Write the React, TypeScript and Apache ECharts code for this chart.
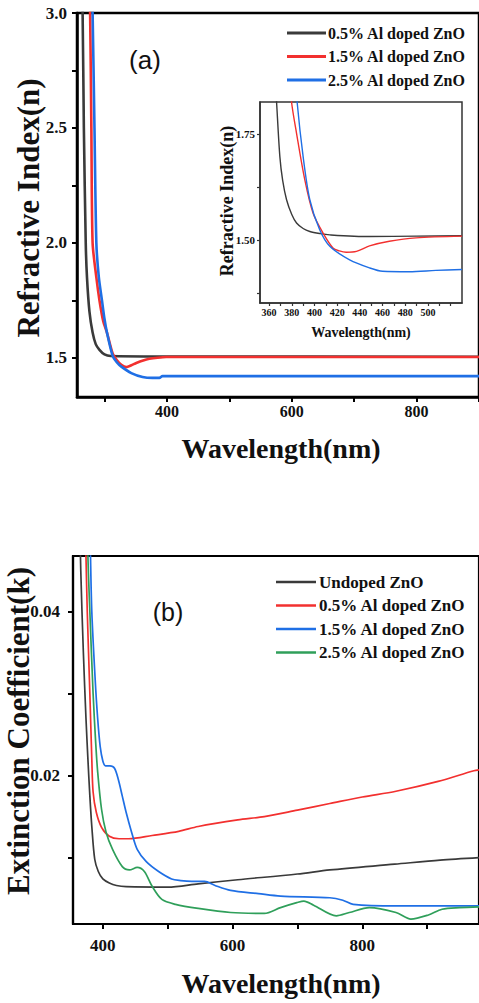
import React, { useEffect, useRef } from "react";
import * as echarts from "echarts";

const SERIF = "'Liberation Serif', 'Times New Roman', serif";
const SANS = "'Liberation Sans', Arial, sans-serif";

// ---------- (a) Refractive index, main plot ----------
const topNames = ["0.5% Al doped ZnO", "1.5% Al doped ZnO", "2.5% Al doped ZnO"];
const topColors = ["#3a3a3a", "#f2302f", "#1f6fe5"];
const nAl05: number[][] = [[263, 3.2], [265, 3.0], [267, 2.5], [270, 2.0], [272, 1.85], [276, 1.7], [281, 1.61], [286, 1.56], [292, 1.535], [300, 1.515], [310, 1.508], [400, 1.506], [900, 1.505]];
const nAl15: number[][] = [[275, 3.2], [277, 3.0], [279, 2.5], [281, 2.0], [287, 1.85], [292, 1.75], [298, 1.66], [304, 1.61], [313, 1.52], [320, 1.49], [327, 1.47], [335, 1.46], [343, 1.468], [351, 1.478], [362, 1.489], [372, 1.496], [385, 1.501], [399, 1.504], [900, 1.504]];
const nAl25: number[][] = [[279, 3.2], [281, 3.0], [284, 2.5], [287, 2.0], [291, 1.85], [296, 1.75], [300, 1.67], [304, 1.61], [313, 1.51], [320, 1.48], [327, 1.462], [343, 1.434], [361, 1.417], [377, 1.413], [388, 1.413], [393, 1.421], [900, 1.421]];
const topXTicks = [300, 400, 500, 600, 700, 800, 900];
const topXLabels = [400, 600, 800];
const topYTicks = [1.5, 1.75, 2.0, 2.25, 2.5, 2.75, 3.0];
const topYLabels = [1.5, 2.0, 2.5, 3.0];

// ---------- (a) inset ----------
const insAl05: number[][] = [[365, 1.9], [366.6, 1.826], [369.5, 1.697], [372, 1.64], [375.4, 1.595], [380, 1.56], [384.2, 1.54], [390, 1.527], [395.9, 1.52], [405, 1.515], [413.5, 1.512], [448.5, 1.508], [490, 1.509], [530, 1.51]];
const insAl15: number[][] = [[378, 1.9], [379.8, 1.826], [384.2, 1.752], [391.5, 1.642], [398.8, 1.563], [407.6, 1.516], [416.3, 1.481], [422, 1.474], [428, 1.471], [437, 1.473], [448.5, 1.486], [466, 1.497], [489.5, 1.505], [530, 1.509]];
const insAl25: number[][] = [[383, 1.9], [384.7, 1.826], [390, 1.697], [395.9, 1.595], [404.6, 1.524], [413.5, 1.485], [431, 1.453], [448.5, 1.434], [460, 1.426], [483.6, 1.425], [507, 1.428], [530, 1.43]];
const insXTicks = [360, 370, 380, 390, 400, 410, 420, 430, 440, 450, 460, 470, 480, 490, 500, 510, 520];
const insXLabels = [360, 380, 400, 420, 440, 460, 480, 500];
const insYTicks = [1.375, 1.5, 1.625, 1.75];
const insYLabels = [1.5, 1.75];

// ---------- (b) Extinction coefficient ----------
const botNames = ["Undoped ZnO", "0.5% Al doped ZnO", "1.5% Al doped ZnO", "2.5% Al doped ZnO"];
const botColors = ["#3a3a3a", "#f2302f", "#1f6fe5", "#2f9f5a"];
const kUndoped: number[][] = [[362, 0.06], [366, 0.045], [370, 0.035], [374, 0.027], [377, 0.022], [380, 0.0175], [383, 0.0138], [387.5, 0.0098], [393, 0.0083], [400, 0.0074], [410, 0.0069], [421, 0.0066], [436, 0.00646], [500, 0.0064], [547, 0.0068], [608, 0.0073], [700, 0.008], [750, 0.0085], [850, 0.0092], [920, 0.0097], [980, 0.01]];
const kAl05: number[][] = [[370, 0.06], [374, 0.0468], [376, 0.04], [380, 0.03], [383, 0.022], [385, 0.018], [390, 0.0155], [398, 0.0137], [410, 0.0126], [425, 0.0123], [440, 0.0123], [476, 0.0127], [517, 0.0132], [547, 0.0138], [608, 0.0146], [649, 0.015], [700, 0.0158], [750, 0.0166], [800, 0.0174], [852, 0.0181], [917, 0.0193], [972, 0.0206], [980, 0.0207]];
const kAl15: number[][] = [[378, 0.06], [381, 0.0468], [383, 0.04], [388, 0.032], [392, 0.027], [396, 0.0235], [400, 0.0218], [404, 0.0212], [411, 0.0212], [418, 0.0209], [424, 0.0195], [430, 0.0175], [436, 0.0155], [444, 0.0132], [453, 0.011], [467, 0.0095], [486, 0.0083], [506, 0.0074], [520, 0.0072], [537, 0.0071], [557, 0.0071], [573, 0.0066], [597, 0.006], [640, 0.0056], [674, 0.0053], [750, 0.0051], [770, 0.0048], [786, 0.0043], [852, 0.0041], [920, 0.0041], [980, 0.0041]];
const kAl25: number[][] = [[374, 0.06], [377, 0.0468], [380, 0.04], [385, 0.03], [389, 0.024], [392, 0.0205], [398, 0.0159], [405, 0.0131], [415, 0.011], [430, 0.0089], [441, 0.0085], [453, 0.0088], [464, 0.0083], [476, 0.0065], [491, 0.0049], [512, 0.0043], [547, 0.0038], [597, 0.0033], [649, 0.0032], [674, 0.0039], [699, 0.0045], [710, 0.0047], [725, 0.0042], [760, 0.0029], [780, 0.0033], [811, 0.0039], [852, 0.0033], [875, 0.0025], [902, 0.003], [923, 0.0037], [950, 0.0039], [980, 0.004]];
const botXTicks = [400, 500, 600, 700, 800, 900];
const botXLabels = [400, 600, 800];
const botYTicks = [0.01, 0.02, 0.03, 0.04];
const botYLabels = [0.02, 0.04];

const topSeriesData = [nAl05, nAl15, nAl25];
const insSeriesData = [insAl05, insAl15, insAl25];
const botSeriesData = [kUndoped, kAl05, kAl15, kAl25];

function buildOption() {
  const boldLabel = (size: number) => ({ fontFamily: SERIF, fontWeight: "bold" as const, fontSize: size, color: "#111" });

  const series: any[] = [];
  topSeriesData.forEach((d, i) =>
    series.push({ type: "line", name: topNames[i], xAxisIndex: 0, yAxisIndex: 0, data: d, symbol: "none", smooth: 0.25, lineStyle: { color: topColors[i], width: 2.6 }, z: 3 })
  );
  insSeriesData.forEach((d, i) =>
    series.push({ type: "line", name: topNames[i] + " inset", xAxisIndex: 1, yAxisIndex: 1, data: d, symbol: "none", smooth: 0.3, lineStyle: { color: topColors[i], width: 1.4 }, z: 5 })
  );
  botSeriesData.forEach((d, i) =>
    series.push({ type: "line", name: botNames[i] + " k", xAxisIndex: 2, yAxisIndex: 2, data: d, symbol: "none", smooth: 0.3, lineStyle: { color: botColors[i], width: 1.7 }, z: 3 })
  );

  const graphic: any[] = [];
  // legends
  topNames.forEach((n, i) => {
    const y = 33 + i * 23.5;
    graphic.push({ type: "line", shape: { x1: 287, y1: y, x2: 326, y2: y }, style: { stroke: topColors[i], lineWidth: 3 } });
    graphic.push({ type: "text", x: 328, y, style: { text: n, font: `bold 16px ${SERIF}`, fill: "#111", textVerticalAlign: "middle", textAlign: "left" } });
  });
  botNames.forEach((n, i) => {
    const y = 582 + i * 23.5;
    graphic.push({ type: "line", shape: { x1: 276, y1: y, x2: 316, y2: y }, style: { stroke: botColors[i], lineWidth: 2.5 } });
    graphic.push({ type: "text", x: 319, y, style: { text: n, font: `bold 17px ${SERIF}`, fill: "#111", textVerticalAlign: "middle", textAlign: "left" } });
  });
  const centered = (text: string, x: number, y: number, font: string, rot = 0) => ({
    type: "text", x, y, rotation: rot, z: 10,
    style: { text, font, fill: "#111", textAlign: "center", textVerticalAlign: "middle" },
  });
  graphic.push(centered("(a)", 145, 60, `26px ${SANS}`));
  graphic.push(centered("(b)", 168, 612, `25px ${SANS}`));
  graphic.push(centered("Refractive Index(n)", 28, 208, `bold 31px ${SERIF}`, Math.PI / 2));
  graphic.push(centered("Wavelength(nm)", 281, 448, `bold 28px ${SERIF}`));
  graphic.push(centered("Refractive Index(n)", 227, 201, `bold 18px ${SERIF}`, Math.PI / 2));
  graphic.push(centered("Wavelength(nm)", 361, 332, `bold 14px ${SERIF}`));
  graphic.push(centered("Extinction Coefficient(k)", 18, 731, `bold 31px ${SERIF}`, Math.PI / 2));
  graphic.push(centered("Wavelength(nm)", 281, 983, `bold 28px ${SERIF}`));

  return {
    animation: false,
    backgroundColor: "#fff",
    grid: [
      { left: 77, top: 13, width: 406, height: 384, show: true, borderColor: "#000", borderWidth: 2.5, containLabel: false },
      { left: 260, top: 102, width: 202, height: 201, show: true, borderColor: "#333", borderWidth: 1.5, backgroundColor: "#fff", z: 4 },
      { left: 73, top: 556, width: 411, height: 368, show: true, borderColor: "#000", borderWidth: 2.2 },
    ],
    xAxis: [
      {
        type: "value", gridIndex: 0, min: 256, max: 900,
        axisLine: { lineStyle: { color: "#000", width: 2.5 } },
        axisTick: { customValues: topXTicks, length: 5, lineStyle: { color: "#000", width: 2 } },
        axisLabel: { customValues: topXLabels, margin: 6, ...boldLabel(16) },
        splitLine: { show: false },
      },
      {
        type: "value", gridIndex: 1, min: 352, max: 530, z: 6,
        axisLine: { lineStyle: { color: "#333", width: 1.5 } },
        axisTick: { customValues: insXTicks, length: 3, lineStyle: { color: "#333", width: 1.2 } },
        axisLabel: { customValues: insXLabels, margin: 4, ...boldLabel(10) },
        splitLine: { show: false },
      },
      {
        type: "value", gridIndex: 2, min: 354, max: 980,
        axisLine: { lineStyle: { color: "#000", width: 2.2 } },
        axisTick: { customValues: botXTicks, length: 5, lineStyle: { color: "#000", width: 2 } },
        axisLabel: { customValues: botXLabels, margin: 13, ...boldLabel(17) },
        splitLine: { show: false },
      },
    ],
    yAxis: [
      {
        type: "value", gridIndex: 0, min: 1.33, max: 3.0,
        axisLine: { lineStyle: { color: "#000", width: 2.5 } },
        axisTick: { customValues: topYTicks, length: 5, lineStyle: { color: "#000", width: 2 } },
        axisLabel: { customValues: topYLabels, margin: 10, formatter: (v: number) => v.toFixed(1), ...boldLabel(17) },
        splitLine: { show: false },
      },
      {
        type: "value", gridIndex: 1, min: 1.351, max: 1.826, z: 6,
        axisLine: { lineStyle: { color: "#333", width: 1.5 } },
        axisTick: { customValues: insYTicks, length: 3, lineStyle: { color: "#333", width: 1.2 } },
        axisLabel: { customValues: insYLabels, margin: 5, formatter: (v: number) => v.toFixed(2), ...boldLabel(11) },
        splitLine: { show: false },
      },
      {
        type: "value", gridIndex: 2, min: 0.0019, max: 0.0468,
        axisLine: { lineStyle: { color: "#000", width: 2.2 } },
        axisTick: { customValues: botYTicks, length: 5, lineStyle: { color: "#000", width: 2 } },
        axisLabel: { customValues: botYLabels, margin: 13, formatter: (v: number) => v.toFixed(2), ...boldLabel(17) },
        splitLine: { show: false },
      },
    ],
    series,
    graphic,
  };
}

export default function App() {
  const ref = useRef<HTMLDivElement | null>(null);
  useEffect(() => {
    if (!ref.current) return;
    const chart = echarts.init(ref.current, null, { renderer: "svg" });
    chart.setOption(buildOption() as any);
    return () => chart.dispose();
  }, []);
  return <div ref={ref} style={{ position: "absolute", left: 0, top: 0, width: 479, height: 1003, background: "#fff" }} />;
}
